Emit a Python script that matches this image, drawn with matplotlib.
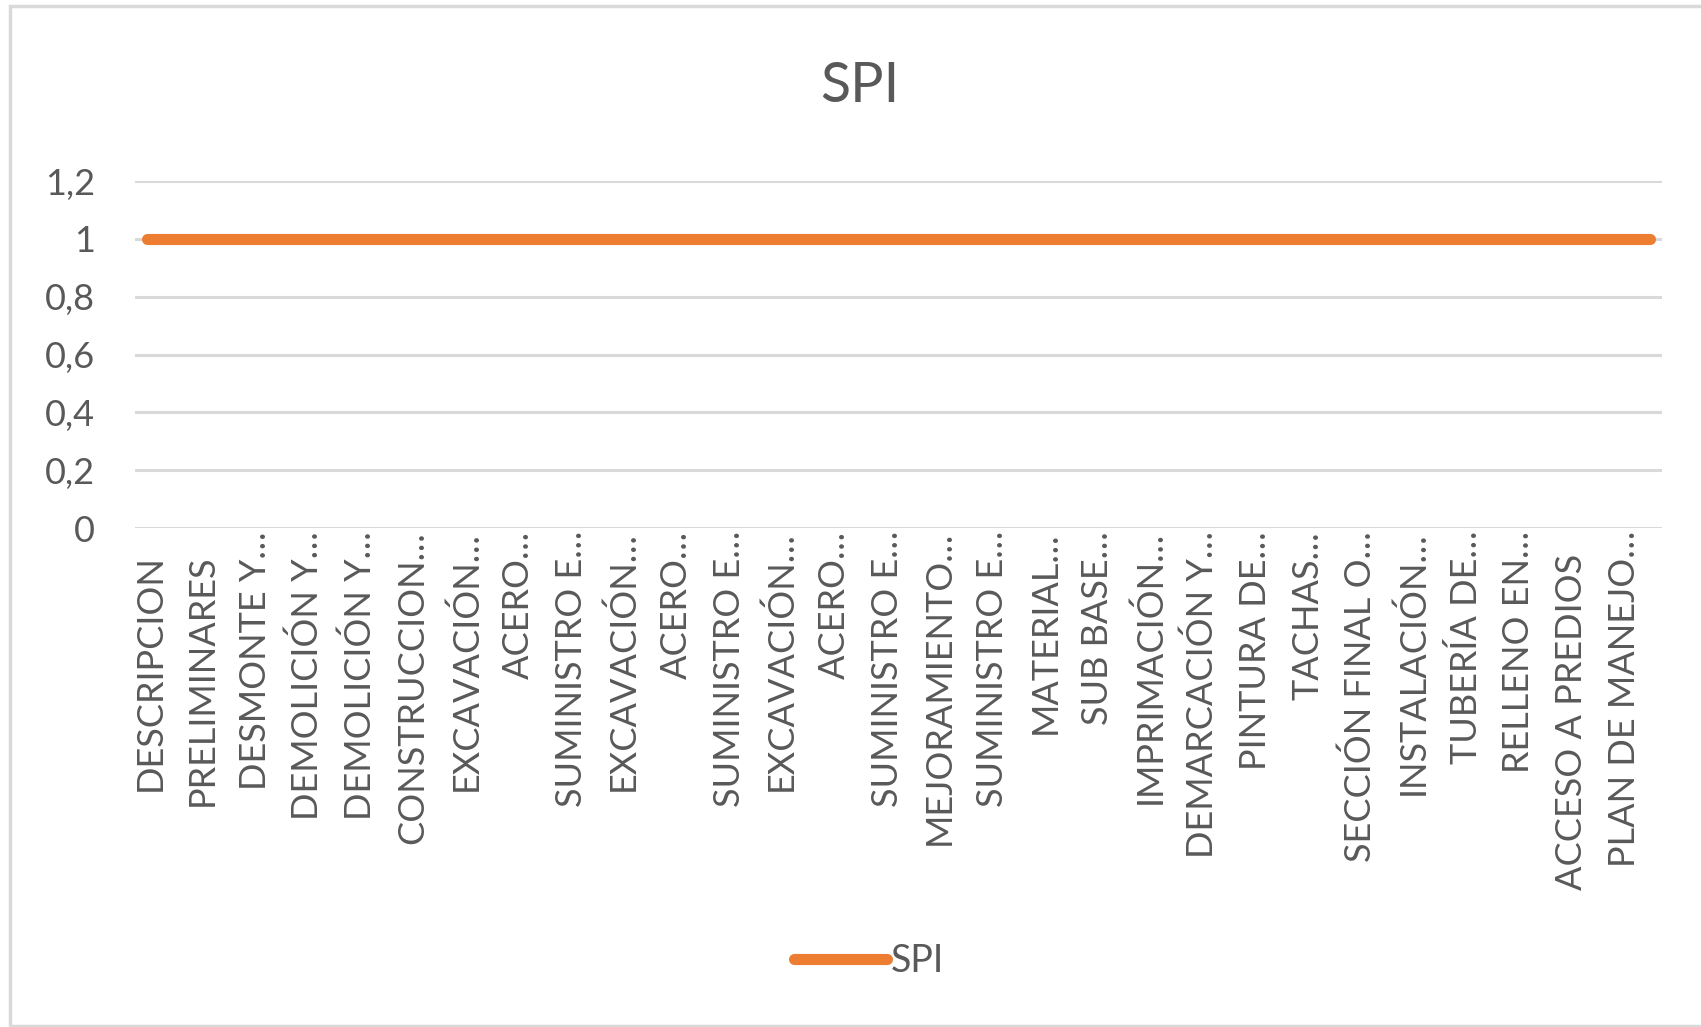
import numpy as np
import matplotlib
matplotlib.use("Agg")
import matplotlib.pyplot as plt
import matplotlib.transforms as mtransforms

plt.rcParams['font.family'] = ['Lato', 'DejaVu Sans']

# Activities of the schedule and their SPI
categories = [
    "DESCRIPCION", "PRELIMINARES", "DESMONTE Y…", "DEMOLICIÓN Y…",
    "DEMOLICIÓN Y…", "CONSTRUCCION…", "EXCAVACIÓN…", "ACERO…",
    "SUMINISTRO E…", "EXCAVACIÓN…", "ACERO…", "SUMINISTRO E…",
    "EXCAVACIÓN…", "ACERO…", "SUMINISTRO E…", "MEJORAMIENTO…",
    "SUMINISTRO E…", "MATERIAL…", "SUB BASE…", "IMPRIMACIÓN…",
    "DEMARCACIÓN Y…", "PINTURA DE…", "TACHAS…", "SECCIÓN FINAL O…",
    "INSTALACIÓN…", "TUBERÍA DE…", "RELLENO EN…", "ACCESO A PREDIOS",
    "PLAN DE MANEJO…",
]
spi = [1, 1, 1, 1, 1, 1, 1, 1, 1, 1, 1, 1, 1, 1, 1, 1, 1, 1, 1, 1,
       1, 1, 1, 1, 1, 1, 1, 1, 1]
y_ticks = [0, 0.2, 0.4, 0.6, 0.8, 1, 1.2]
y_labels = ["0", "0,2", "0,4", "0,6", "0,8", "1", "1,2"]

ORANGE = "#ED7D31"
GRID = "#D9D9D9"
TEXT = "#595959"

W, H = 1701, 1027
fig = plt.figure(figsize=(W / 100, H / 100), dpi=100)

# chart area border (right side runs off the picture)
fig.patches.append(plt.Rectangle((10 / W, 1 - 1026 / H), 1.05, (1026 - 6) / H,
                                 transform=fig.transFigure, fill=False,
                                 edgecolor=GRID, linewidth=2.5))

left, right, top, bottom = 135, 1662, 181, 528
ax = fig.add_axes([left / W, 1 - bottom / H, (right - left) / W, (bottom - top) / H])

x = np.arange(len(categories))
line, = ax.plot(x, spi, color=ORANGE, linewidth=8, solid_capstyle='round',
                label="SPI", zorder=3)
ax.set_xlim(-0.2236, len(categories) - 1 + 0.2236)
ax.set_ylim(0, 1.2)

ax.set_yticks(y_ticks)
ax.set_yticklabels(y_labels)
ax.tick_params(axis='y', length=0, pad=29, labelsize=26, labelcolor=TEXT)
ax.set_xticks([])
ax.yaxis.grid(True, color=GRID, linewidth=2.2)
ax.set_axisbelow(True)
for s in ax.spines.values():
    s.set_visible(False)

# category labels sit in equal slots along the bottom axis
cat_ax = ax.twiny()
cat_ax.set_xlim(0, len(categories))
cat_ax.set_axis_off()
for i, name in enumerate(categories):
    drop = 3 if name.endswith("…") else 26
    tr = mtransforms.offset_copy(cat_ax.get_xaxis_transform(), fig=fig,
                                 x=5, y=-drop, units='dots')
    cat_ax.text(i + 0.5, 0, name, transform=tr, rotation=90, ha='right',
                va='top', fontsize=26, color=TEXT)

fig.text(860 / W, 1 - 86 / H, "SPI", ha='center', va='center',
         fontsize=40, color=TEXT)

fig.legend(handles=[line], loc='center', bbox_to_anchor=(869 / W, 1 - 961 / H),
           frameon=False, fontsize=27, handlelength=2.5, handletextpad=0.1,
           labelcolor=TEXT)

fig.savefig("out.png", dpi=100, facecolor="white")
